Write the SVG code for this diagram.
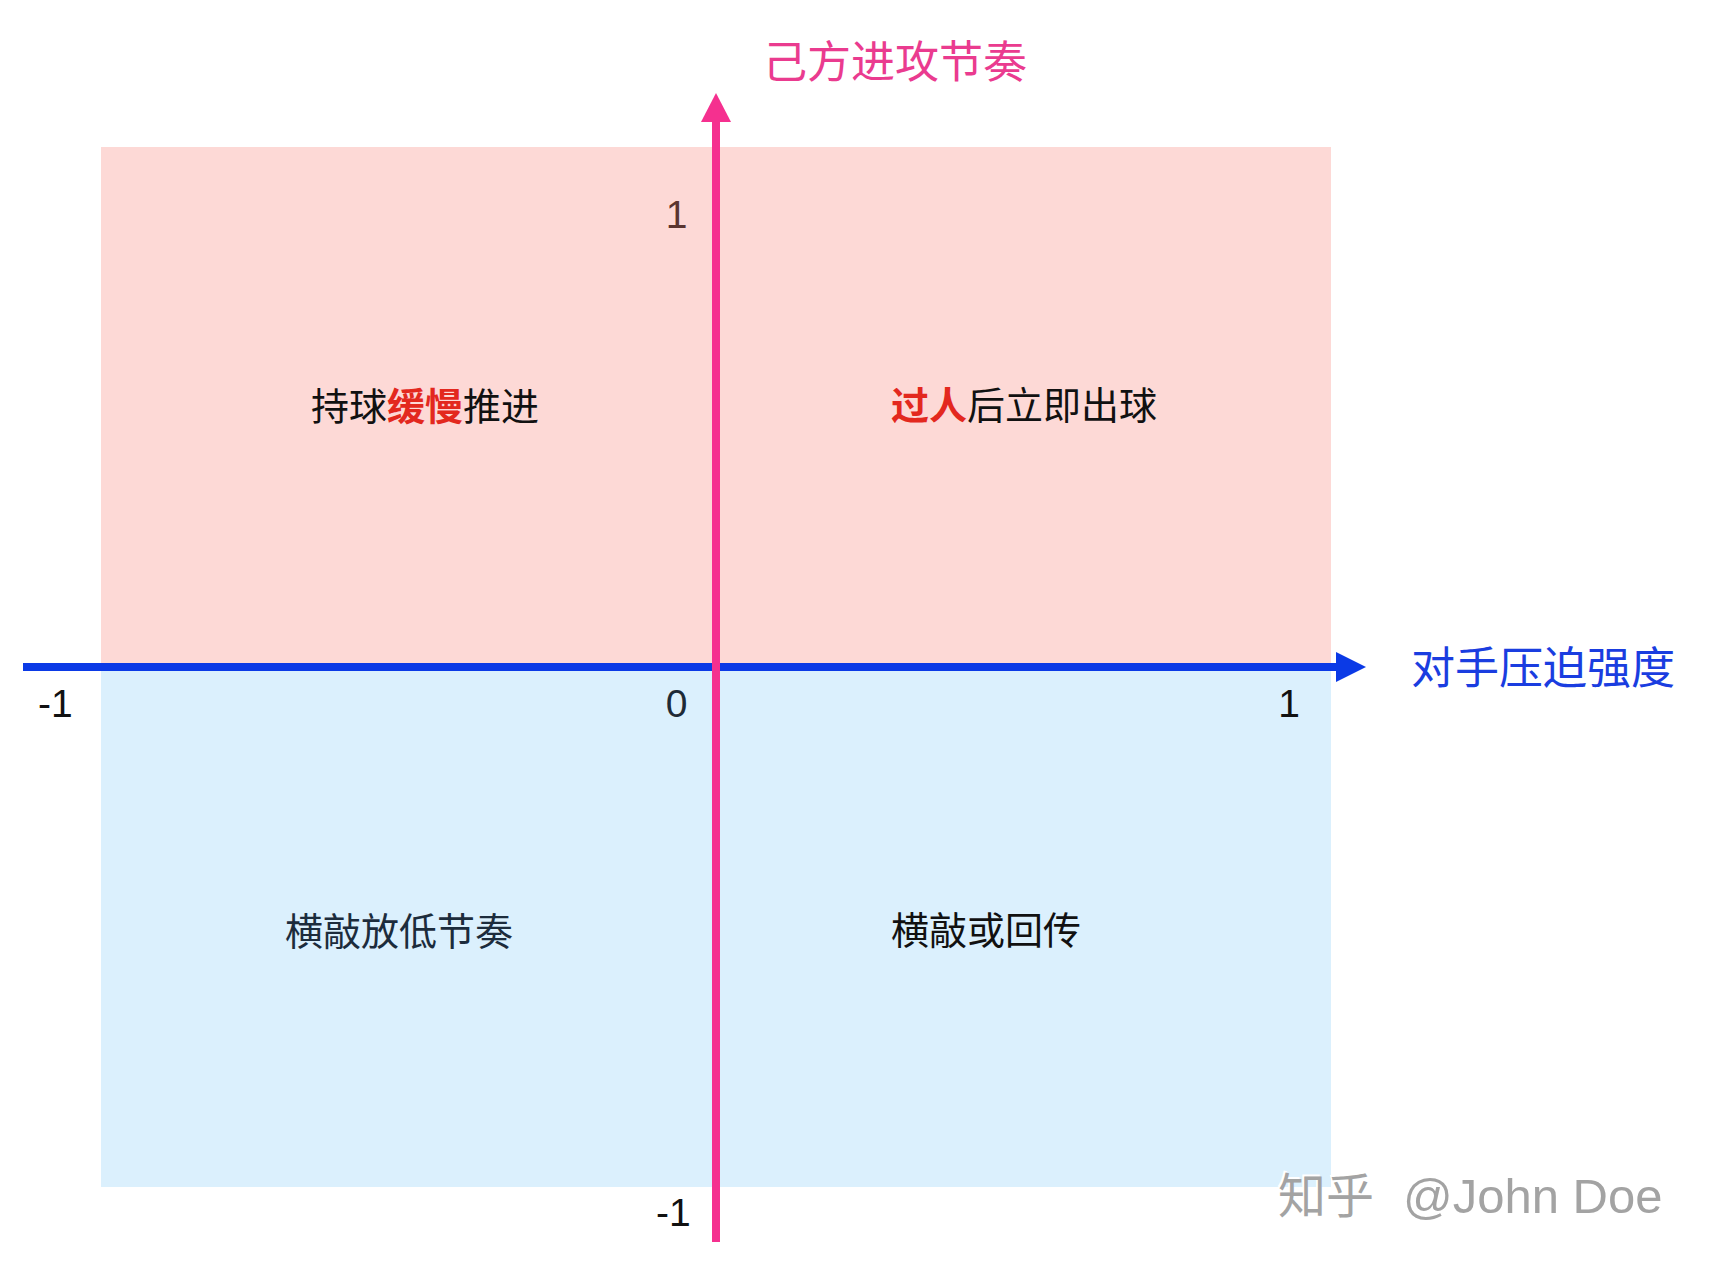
<svg xmlns="http://www.w3.org/2000/svg" width="1710" height="1262" viewBox="0 0 1710 1262">
<style>
.cjk{font-family:"Noto Sans CJK SC","Noto Sans",sans-serif;}
.num{font-family:"Liberation Sans",Arial,sans-serif;font-size:39px;}
.q{font-size:38px;fill:#111111;}
.hl{fill:#e3281e;font-weight:bold;}
.wm{font-family:"Liberation Sans","Noto Sans CJK SC",sans-serif;font-size:49px;}
.wmc{font-family:"Noto Sans CJK SC",sans-serif;font-size:48px;}
</style>
<rect width="1710" height="1262" fill="#ffffff"/>
<g id="quadrants">
<rect id="upper" x="101" y="147" width="1230" height="520" fill="#fdd9d6"/>
<rect id="lower" x="101" y="667" width="1230" height="520" fill="#dbf0fd"/>
</g>
<g id="connectors">
<g id="x-axis">
<line x1="23" y1="667" x2="1338" y2="667" stroke="#0b3ae6" stroke-width="8"/>
<polygon points="1336,652 1366,667 1336,682" fill="#0b3ae6"/>
</g>
<g id="y-axis">
<line x1="716" y1="1242" x2="716" y2="120" stroke="#f5308f" stroke-width="8"/>
<polygon points="701,122 716,93 731,122" fill="#f5308f"/>
</g>
</g>
<g id="axis-titles">
<text id="y-title" class="cjk" x="763" y="78" font-size="44" fill="#ea3b8f">己方进攻节奏</text>
<text id="x-title" class="cjk" x="1411" y="684" font-size="44" fill="#1a3de0">对手压迫强度</text>
</g>
<g id="ticks">
<text class="num" x="676.5" y="228" text-anchor="middle" fill="#5a3530">1</text>
<text class="num" x="38" y="717" fill="#111111">-1</text>
<text class="num" x="676.5" y="717" text-anchor="middle" fill="#1e2a36">0</text>
<text class="num" x="1289" y="717" text-anchor="middle" fill="#111111">1</text>
<text class="num" x="656" y="1226" fill="#111111">-1</text>
</g>
<g id="q1"><text class="cjk q" x="311" y="420">持球<tspan class="hl">缓慢</tspan>推进</text></g>
<g id="q2"><text class="cjk q" x="891" y="419"><tspan class="hl">过人</tspan>后立即出球</text></g>
<g id="q3"><text class="cjk q" x="285" y="945" style="fill:#1c2c3c">横敲放低节奏</text></g>
<g id="q4"><text class="cjk q" x="891" y="944">横敲或回传</text></g>
<g id="watermark">
<g fill="#ffffff" transform="translate(-2,-2)">
<text class="wmc" x="1278" y="1213">知乎</text>
<text class="wm" x="1403" y="1213">@John Doe</text>
</g>
<g fill="#a3a3a3">
<text class="wmc" x="1278" y="1213">知乎</text>
<text class="wm" x="1403" y="1213">@John Doe</text>
</g>
</g>
</svg>
